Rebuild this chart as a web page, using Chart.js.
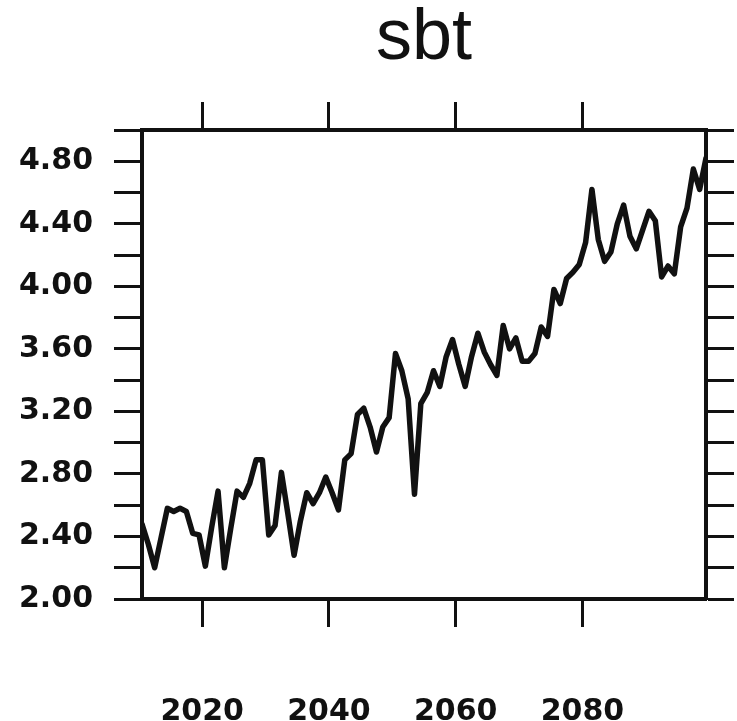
<!DOCTYPE html>
<html>
<head>
<meta charset="utf-8">
<title>sbt</title>
<script src="https://cdn.jsdelivr.net/npm/chart.js@4.4.0/dist/chart.umd.min.js"></script>
<style>
  html, body { margin: 0; padding: 0; background: #fff; }
</style>
</head>
<body>
<canvas id="sbtChart" width="737" height="721"></canvas>
<script>
// years of the series
const years = [
  2011, 2012, 2013, 2014, 2015, 2016, 2017, 2018, 2019, 2020,
  2021, 2022, 2023, 2024, 2025, 2026, 2027, 2028, 2029, 2030,
  2031, 2032, 2033, 2034, 2035, 2036, 2037, 2038, 2039, 2040,
  2041, 2042, 2043, 2044, 2045, 2046, 2047, 2048, 2049, 2050,
  2051, 2052, 2053, 2054, 2055, 2056, 2057, 2058, 2059, 2060,
  2061, 2062, 2063, 2064, 2065, 2066, 2067, 2068, 2069, 2070,
  2071, 2072, 2073, 2074, 2075, 2076, 2077, 2078, 2079, 2080,
  2081, 2082, 2083, 2084, 2085, 2086, 2087, 2088, 2089, 2090,
  2091, 2092, 2093, 2094, 2095, 2096, 2097, 2098, 2099, 2100
];

// sbt values
const sbtValues = [
  2.48, 2.35, 2.20, 2.39, 2.58, 2.56, 2.58, 2.56, 2.42, 2.41,
  2.21, 2.46, 2.69, 2.20, 2.45, 2.69, 2.65, 2.74, 2.89, 2.89,
  2.41, 2.47, 2.81, 2.55, 2.28, 2.50, 2.68, 2.61, 2.68, 2.78,
  2.68, 2.57, 2.89, 2.93, 3.18, 3.22, 3.10, 2.94, 3.10, 3.16,
  3.57, 3.46, 3.28, 2.67, 3.25, 3.32, 3.46, 3.36, 3.55, 3.66,
  3.50, 3.36, 3.55, 3.70, 3.58, 3.50, 3.43, 3.75, 3.60, 3.67,
  3.52, 3.52, 3.57, 3.74, 3.68, 3.98, 3.89, 4.05, 4.09, 4.14,
  4.28, 4.62, 4.30, 4.16, 4.22, 4.40, 4.52, 4.32, 4.24, 4.36,
  4.48, 4.42, 4.06, 4.13, 4.08, 4.38, 4.50, 4.75, 4.62, 4.82
];

// axis ticks
const xTickYears = [2020, 2040, 2060, 2080];
const yTickMin = 2.0;
const yTickMax = 5.0;
const yTickStep = 0.2;   // every tick mark
const yLabelStep = 0.4;  // labelled ticks

// annual means sit at mid-year on the time axis
const midYear = (yr) => yr - 0.5;

const ink = "#111";
const tickFont = { family: "DejaVu Sans", size: 30, weight: "bold" };

const yLabel = (value) => {
  const k = Math.round((value - yTickMin) / yTickStep);
  const every = Math.round(yLabelStep / yTickStep);
  if (k % every !== 0 || value > yTickMax - 0.01) return "";
  return value.toFixed(2);
};

const xAxis = (position, showLabels, fixedSize, pad) => ({
  type: "linear",
  position: position,
  min: midYear(years[0]),
  max: midYear(years[years.length - 1]),
  afterBuildTicks: (scale) => {
    scale.ticks = xTickYears.map((v) => ({ value: v }));
  },
  afterFit: (scale) => {
    scale.height = fixedSize;
  },
  grid: {
    drawOnChartArea: false,
    drawTicks: true,
    tickLength: 28,
    tickWidth: 3,
    tickColor: ink,
  },
  border: { display: true, color: ink, width: 4 },
  ticks: {
    autoSkip: false,
    maxRotation: 0,
    padding: pad,
    color: ink,
    font: tickFont,
    callback: (v) => (showLabels ? String(v) : ""),
  },
});

const yAxis = (position, showLabels, fixedSize) => ({
  type: "linear",
  position: position,
  min: yTickMin,
  max: yTickMax,
  afterFit: (scale) => {
    scale.width = fixedSize;
  },
  grid: {
    drawOnChartArea: false,
    drawTicks: true,
    tickLength: 28,
    tickWidth: 3,
    tickColor: ink,
  },
  border: { display: true, color: ink, width: 4 },
  ticks: {
    stepSize: yTickStep,
    autoSkip: false,
    padding: 21,
    color: ink,
    font: tickFont,
    callback: (v) => (showLabels ? yLabel(v) : ""),
  },
});

const ctx = document.getElementById("sbtChart").getContext("2d");

new Chart(ctx, {
  type: "line",
  data: {
    datasets: [
      {
        label: "sbt",
        data: years.map((yr, i) => ({ x: midYear(yr), y: sbtValues[i] })),
        borderColor: ink,
        borderWidth: 5.5,
        borderJoinStyle: "round",
        borderCapStyle: "round",
        pointRadius: 0,
        tension: 0,
        fill: false,
      },
    ],
  },
  options: {
    responsive: false,
    animation: false,
    layout: { padding: { left: 0, right: 0, top: 0, bottom: 0 } },
    plugins: {
      legend: { display: false },
      tooltip: { enabled: false },
      title: {
        display: true,
        text: "sbt",
        fullSize: false,
        color: ink,
        font: { family: "Liberation Sans", size: 72, weight: "normal", lineHeight: 1 },
        padding: { top: 3, bottom: 25 },
      },
    },
    scales: {
      x: xAxis("bottom", true, 122, 67),
      xTop: xAxis("top", false, 30, 0),
      y: yAxis("left", true, 142),
      yRight: yAxis("right", false, 31),
    },
  },
});
</script>
</body>
</html>
